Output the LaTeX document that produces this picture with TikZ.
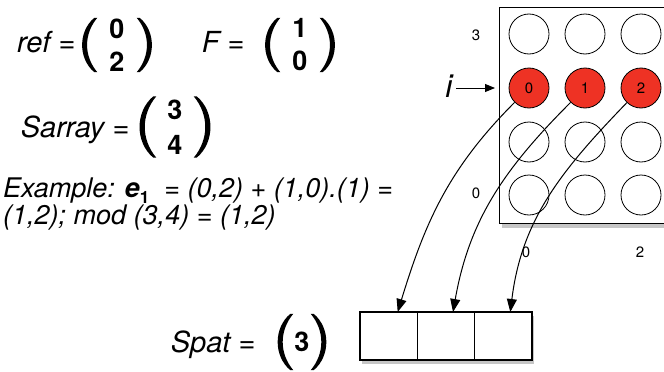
\documentclass[tikz,border=0pt]{standalone}
\usepackage{fontspec}
\setmainfont{TeX Gyre Heros}
\usetikzlibrary{arrows.meta,shadows,positioning,calc}
\definecolor{hotred}{RGB}{238,50,36}
\tikzset{
  dot/.style={draw,circle,minimum size=40pt,inner sep=0pt,line width=0.8pt},
  hot/.style={dot,fill=hotred,font=\fontsize{15}{15}\selectfont},
  cell/.style={draw,fill=white,minimum width=57.3pt,minimum height=48pt,inner sep=0pt,outer sep=0pt,line width=1.2pt,
    drop shadow={shadow xshift=2pt,shadow yshift=-4pt,opacity=.45}},
  vec/.style={inner sep=0pt,align=center,font=\fontsize{27}{33}\selectfont\bfseries},
  lbl/.style={font=\fontsize{29}{30}\selectfont\itshape},
  num/.style={font=\fontsize{15}{15}\selectfont},
  conn/.style={line width=1pt,-{Triangle[length=13pt,width=10pt]}},
}
\begin{document}
\begin{tikzpicture}[x=1pt,y=-1pt]
\useasboundingbox (0,0) rectangle (664,372);
\clip (0,0) rectangle (664,372);

% vectors
\node[vec,minimum width=42pt,minimum height=54pt] (refv) at (117,45) {0\\2};
\node[vec,minimum width=42pt,minimum height=54pt] (fv) at (300,45) {1\\0};
\node[vec,minimum width=40pt,minimum height=61pt,font=\fontsize{27}{35}\selectfont\bfseries] (sv) at (175,127) {3\\4};
\node[vec,minimum width=20pt,minimum height=56pt] (pv) at (302,342) {3};
\foreach \v in {refv,fv,sv,pv} {
  \fill ([xshift=-1.5pt]\v.north west) to[bend right=50] ([xshift=-1.5pt]\v.south west)
    -- ([xshift=1.5pt]\v.south west) to[bend left=40] ([xshift=1.5pt]\v.north west) -- cycle;
  \fill ([xshift=1.5pt]\v.north east) to[bend left=50] ([xshift=1.5pt]\v.south east)
    -- ([xshift=-1.5pt]\v.south east) to[bend right=40] ([xshift=-1.5pt]\v.north east) -- cycle;
}
\node[lbl,anchor=base east] (reflbl) at (79,52) {ref =};
\node[lbl,anchor=base east] (flbl) at (248,52) {F =};
\node[lbl,anchor=base east] (slbl) at (133,137) {Sarray =};
\node[lbl,anchor=base east] (plbl) at (259,352) {Spat =};

\node[anchor=north west,align=left,inner sep=0pt,font=\fontsize{27}{25}\selectfont\itshape] (ex) at (3,178)
  {Example: \textbf{e}\raisebox{-6pt}{\fontsize{17}{17}\selectfont\bfseries\upshape 1}\ \ = (0,2) + (1,0).(1) =\\(1,2); mod (3,4) = (1,2)};

% grid
\node[draw,fill=white,line width=1.2pt,anchor=north west,minimum width=190pt,minimum height=216pt,
  drop shadow={shadow xshift=2pt,shadow yshift=-4pt,opacity=.45}] (grid) at (499,7) {};
\foreach \c in {0,1,2} {
  \foreach \r/\yy in {3/34,1/142,0/195}
    \node[dot] (c\c\r) at (529+56*\c,\yy) {};
  \node[hot] (c\c2) at (529+56*\c,88) {\c};
}
\node[num] (row3) at (476,35) {3};
\node[num] (row0) at (476,193) {0};
\node[num] (col0) at (526,252) {0};
\node[num] (col2) at (640,252) {2};
\node[font=\fontsize{32}{32}\selectfont\itshape] (ilbl) at (449,86) {i};
\coordinate (iend) at (495,88);
\draw[line width=1pt,-{Triangle[length=10pt,width=8pt]}] (ilbl.east |- iend) -- (iend);

% array
\node[cell] (a0) at (388.7,336) {};
\node[cell,right=0pt of a0] (a1) {};
\node[cell,right=0pt of a1] (a2) {};

\draw[conn] (c02) to[out=-135,in=73] ([xshift=9pt]a0.north);
\draw[conn] (c12) to[out=-135,in=80] ([xshift=7pt]a1.north);
\draw[conn] (c22) to[out=-134,in=83] ([xshift=7pt]a2.north);
\end{tikzpicture}
\end{document}
